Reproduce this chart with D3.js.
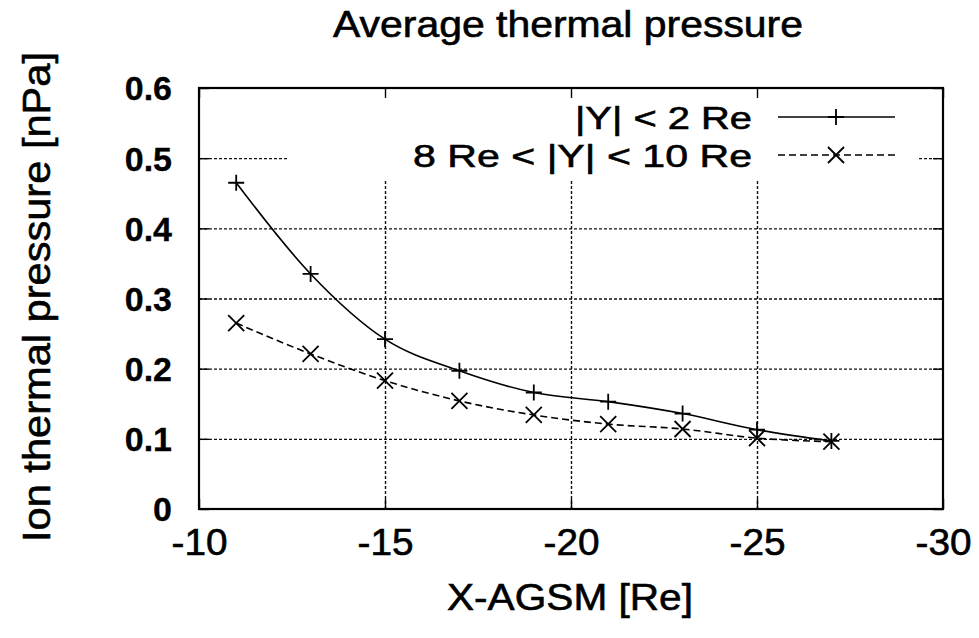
<!DOCTYPE html>
<html lang="en">
<head>
    <meta charset="UTF-8">
    <title>Average thermal pressure</title>
    <style>
        body, html {
            margin: 0;
            padding: 0;
            width: 100%;
            height: 100%;
            overflow: hidden;
            background: #fff;
        }
        svg text {
            font-family: "Liberation Sans", Arial, Helvetica, sans-serif;
            fill: #000;
            stroke: #000;
            stroke-width: 0.6px;
        }
        .grid line {
            stroke: #111;
            stroke-width: 1.4px;
            stroke-dasharray: 3,2;
        }
        .grid path { display: none; }
    </style>
    <script src="https://d3js.org/d3.v7.min.js"></script>
</head>
<body>
    <div id="chart"></div>

    <script>
        const width = 979;
        const height = 638;

        // data
        const xValues = [-11, -13, -15, -17, -19, -21, -23, -25, -27];
        const innerY = [0.465, 0.335, 0.242, 0.197, 0.166, 0.153, 0.136, 0.113, 0.097];
        const outerY = [0.265, 0.221, 0.183, 0.154, 0.134, 0.121, 0.114, 0.101, 0.096];
        const xTicks = [-10, -15, -20, -25, -30];
        const yTicks = [0, 0.1, 0.2, 0.3, 0.4, 0.5, 0.6];
        const seriesNames = ["|Y| < 2 Re", "8 Re < |Y| < 10 Re"];

        const plotL = 199, plotR = 943, plotT = 88, plotB = 509;

        const x = d3.scaleLinear().domain([-10, -30]).range([plotL, plotR]);
        const y = d3.scaleLinear().domain([0, 0.6]).range([plotB, plotT]);

        const svg = d3.select("#chart")
            .append("svg")
            .attr("width", width)
            .attr("height", height);

        // grid
        svg.append("g")
            .attr("class", "grid")
            .attr("transform", `translate(0,${plotB})`)
            .call(d3.axisBottom(x).tickValues(xTicks.slice(1, -1)).tickSize(-(plotB - plotT)).tickFormat(""));
        svg.append("g")
            .attr("class", "grid")
            .attr("transform", `translate(${plotL},0)`)
            .call(d3.axisLeft(y).tickValues(yTicks.slice(1, -1)).tickSize(-(plotR - plotL)).tickFormat(""));

        // key area blanks the grid
        svg.append("rect")
            .attr("x", 289).attr("y", plotT)
            .attr("width", 918 - 289).attr("height", 180 - plotT)
            .attr("fill", "#fff");

        // inward ticks on all sides
        const tickLen = 10;
        const tickGroups = [
            svg.append("g").attr("transform", `translate(0,${plotB})`)
                .call(d3.axisBottom(x).tickValues(xTicks).tickSize(-tickLen).tickFormat("")),
            svg.append("g").attr("transform", `translate(0,${plotT})`)
                .call(d3.axisTop(x).tickValues(xTicks).tickSize(-tickLen).tickFormat("")),
            svg.append("g").attr("transform", `translate(${plotL},0)`)
                .call(d3.axisLeft(y).tickValues(yTicks).tickSize(-tickLen).tickFormat("")),
            svg.append("g").attr("transform", `translate(${plotR},0)`)
                .call(d3.axisRight(y).tickValues(yTicks).tickSize(-tickLen).tickFormat(""))
        ];
        tickGroups.forEach(g => {
            g.select(".domain").remove();
            g.selectAll(".tick line").attr("stroke", "#000").attr("stroke-width", 1.4);
        });

        // border
        svg.append("rect")
            .attr("x", plotL).attr("y", plotT)
            .attr("width", plotR - plotL).attr("height", plotB - plotT)
            .attr("fill", "none").attr("stroke", "#000").attr("stroke-width", 2.2);

        // tick labels
        const yAxis = svg.append("g")
            .attr("transform", `translate(${plotL - 27},0)`)
            .call(d3.axisLeft(y).tickValues(yTicks).tickSize(0).tickFormat(d => d === 0 ? "0" : d.toFixed(1)));
        yAxis.select(".domain").remove();
        yAxis.selectAll("text")
            .attr("x", 0)
            .attr("dy", "0.35em")
            .style("font-size", "34px")
            .style("font-weight", "bold")
            .style("stroke-width", "0.3px");

        const xAxis = svg.append("g")
            .attr("transform", `translate(0,${plotB})`)
            .call(d3.axisBottom(x).tickValues(xTicks).tickSize(0).tickFormat(d => String(d)));
        xAxis.select(".domain").remove();
        xAxis.selectAll("text")
            .attr("y", 46)
            .attr("dy", 0)
            .attr("textLength", 56)
            .attr("lengthAdjust", "spacingAndGlyphs")
            .style("font-size", "36px");

        // lines
        const series = [
            { name: seriesNames[0], values: innerY, dash: null, marker: "plus" },
            { name: seriesNames[1], values: outerY, dash: "7,4", marker: "cross" }
        ];

        const line = d3.line()
            .x(d => x(d[0]))
            .y(d => y(d[1]))
            .curve(d3.curveMonotoneX);

        const m = 8;
        function drawMarker(g, type, cx, cy) {
            const p = type === "plus"
                ? `M${cx - m},${cy}H${cx + m}M${cx},${cy - m}V${cy + m}`
                : `M${cx - m},${cy - m}L${cx + m},${cy + m}M${cx - m},${cy + m}L${cx + m},${cy - m}`;
            g.append("path").attr("d", p).attr("stroke", "#000").attr("stroke-width", 1.8).attr("fill", "none");
        }

        series.forEach((s, i) => {
            const pts = xValues.map((xv, j) => [xv, s.values[j]]);
            svg.append("path")
                .datum(pts)
                .attr("d", line)
                .attr("fill", "none")
                .attr("stroke", "#000")
                .attr("stroke-width", 1.6)
                .attr("stroke-dasharray", s.dash);
            const mg = svg.append("g");
            pts.forEach(p => drawMarker(mg, s.marker, x(p[0]), y(p[1])));

            // key entry
            const ty = [129, 167][i];
            const ly = ty - 12;
            svg.append("text")
                .attr("x", 752).attr("y", ty)
                .attr("text-anchor", "end")
                .attr("textLength", [177, 339][i])
                .attr("lengthAdjust", "spacingAndGlyphs")
                .style("font-size", "32px")
                .text(s.name);
            svg.append("line")
                .attr("x1", 778).attr("x2", 895)
                .attr("y1", ly).attr("y2", ly)
                .attr("stroke", "#000").attr("stroke-width", 1.6)
                .attr("stroke-dasharray", s.dash);
            drawMarker(mg, s.marker, 836, ly);
        });

        // title and axis labels
        svg.append("text")
            .attr("x", 568).attr("y", 37)
            .attr("text-anchor", "middle")
            .attr("textLength", 470)
            .attr("lengthAdjust", "spacingAndGlyphs")
            .style("font-size", "36px")
            .text("Average thermal pressure");

        svg.append("text")
            .attr("x", 570).attr("y", 610)
            .attr("text-anchor", "middle")
            .attr("textLength", 246)
            .attr("lengthAdjust", "spacingAndGlyphs")
            .style("font-size", "37px")
            .text("X-AGSM [Re]");

        svg.append("text")
            .attr("transform", "translate(50,297) rotate(-90)")
            .attr("text-anchor", "middle")
            .attr("textLength", 490)
            .attr("lengthAdjust", "spacingAndGlyphs")
            .style("font-size", "39px")
            .text("Ion thermal pressure [nPa]");
    </script>
</body>
</html>
